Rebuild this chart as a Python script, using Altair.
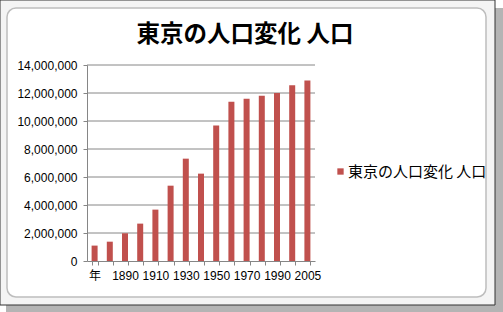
import altair as alt
import pandas as pd

categories = ["年", "1880", "1890", "1900", "1910", "1920", "1930", "1940",
              "1950", "1960", "1970", "1980", "1990", "2000", "2005"]
population = [1100000, 1380000, 1980000, 2670000, 3670000, 5380000, 7310000,
              6240000, 9670000, 11380000, 11590000, 11810000, 12000000,
              12550000, 12900000]
shown_labels = ["年", "1890", "1910", "1930", "1950", "1970", "1990", "2005"]
grid_values = [2000000, 4000000, 6000000, 8000000, 10000000, 12000000, 14000000]
series_name = "東京の人口変化 人口"
chart_title = "東京の人口変化 人口"

df = pd.DataFrame({"year": categories, "pop": population, "series": series_name})
grid_df = pd.DataFrame({"v": grid_values})
one = pd.DataFrame({"a": [0]})

RED = "#C0504D"
GREY = "#868686"
LATIN = "Liberation Sans, Noto Sans CJK JP, sans-serif"
CJK = "Noto Sans CJK JP, sans-serif"

yscale = alt.Scale(domain=[0, 14000000])
y_axis = alt.Axis(title=None, values=[0] + grid_values, format=",d",
                  labelFont=LATIN, labelFontSize=12, labelColor="#000000",
                  labelPadding=6, tickSize=4, domainColor=GREY,
                  tickColor=GREY, grid=False, zindex=1)

shadow = alt.Chart(one).mark_rect(fill="#b4b4b4").encode(
    x=alt.value(-81), x2=alt.value(416), y=alt.value(-57), y2=alt.value(247))
sheet = alt.Chart(one).mark_rect(fill="#f4f4f4", stroke="#333333", strokeWidth=1).encode(
    x=alt.value(-87), x2=alt.value(408), y=alt.value(-65), y2=alt.value(240))
frame = alt.Chart(one).mark_rect(fill="white", stroke="#bdbdbd", strokeWidth=1.5,
                                 cornerRadius=9).encode(
    x=alt.value(-80), x2=alt.value(399), y=alt.value(-57), y2=alt.value(232))

grid = alt.Chart(grid_df).mark_rule(color=GREY, strokeWidth=1).encode(
    y=alt.Y("v:Q", scale=yscale, axis=y_axis),
    x=alt.value(0), x2=alt.value(228))

label_expr = "indexof([" + ",".join("'" + s + "'" for s in shown_labels) + "], datum.value) >= 0 ? datum.label : ''"

bars = alt.Chart(df).mark_bar(size=6).encode(
    x=alt.X("year:N", sort=categories,
            scale=alt.Scale(paddingInner=0.6, paddingOuter=0.3),
            axis=alt.Axis(title=None, labelAngle=0, tickBand="extent",
                          labelExpr=label_expr, labelFont=LATIN, labelFontSize=12,
                          labelColor="#000000", labelPadding=5, tickSize=4,
                          domainColor=GREY, tickColor=GREY, grid=False, zindex=1)),
    y=alt.Y("pop:Q", scale=yscale, axis=y_axis),
    color=alt.Color("series:N", scale=alt.Scale(range=[RED]),
                    legend=alt.Legend(title=None, orient="none", legendX=246,
                                      legendY=99, symbolType="square",
                                      symbolSize=40, symbolStrokeWidth=0,
                                      labelFont=CJK, labelFontSize=15,
                                      labelColor="#000000", padding=0,
                                      labelOffset=0)),
)

chart = alt.layer(shadow, sheet, frame, grid, bars).properties(
    width=228, height=196,
    padding={"left": 87, "top": 65, "right": 188, "bottom": 51},
    autosize="none",
    background="white",
    title=alt.TitleParams(chart_title, font=CJK, fontSize=23.5, fontWeight="bold",
                          color="#000000", dx=44, offset=-47, anchor="middle"),
).configure_view(strokeWidth=0)

chart.save("out.html", embed_options={"renderer": "svg", "actions": False})
